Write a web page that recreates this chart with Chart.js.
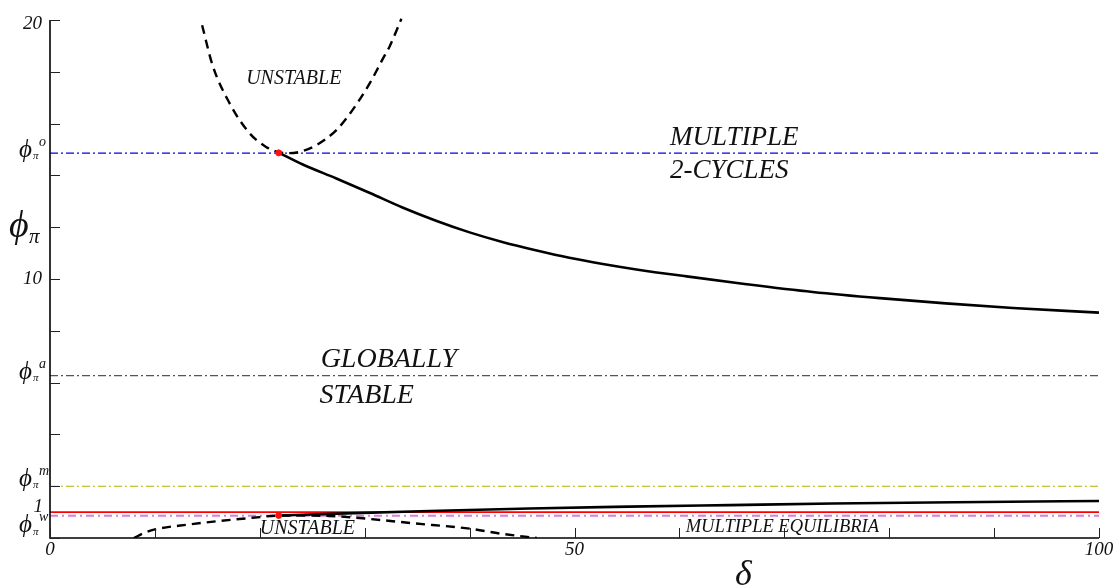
<!DOCTYPE html>
<html>
<head>
<meta charset="utf-8">
<script src="https://cdn.jsdelivr.net/npm/chart.js@4.4.1/dist/chart.umd.min.js"></script>
<style>
  html, body { margin: 0; padding: 0; background: #ffffff; }
  canvas { display: block; }
</style>
</head>
<body>
<canvas id="chart" width="1115" height="587"></canvas>
<script>
// ---- Bifurcation boundaries in the (delta, phi_pi) plane ----

// Upper unstable branch (dashed U shape)
const deltaUnstableUpper = [14.5, 15.5, 17.1, 19.0, 20.6, 21.8, 22.8, 24.0, 25.4, 27.3, 28.8, 30.5, 31.7, 32.4, 33.5];
const phiUnstableUpper   = [19.8, 18.25, 16.8, 15.64, 15.1, 14.9, 14.86, 14.93, 15.17, 15.75, 16.5, 17.57, 18.48, 19.0, 20.05];

// Flip (2-cycle) boundary, solid
const deltaFlip = [21.8, 24.1, 27.3, 30.5, 33.6, 36.8, 40.0, 43.2, 46.4, 49.5, 52.7, 55.9, 60.7, 66.4, 72.7, 79.1, 85.4, 91.8, 100];
const phiFlip   = [14.88, 14.42, 13.88, 13.32, 12.76, 12.25, 11.80, 11.42, 11.10, 10.82, 10.58, 10.37, 10.10, 9.80, 9.50, 9.26, 9.06, 8.88, 8.70];

// Multiple-equilibria boundary, solid
const deltaMultiEq = [21.8, 26.6, 36.2, 45.7, 55.2, 64.8, 74.6, 88.9, 100];
const phiMultiEq   = [0.87, 0.93, 1.04, 1.14, 1.21, 1.27, 1.33, 1.39, 1.43];

// Lower unstable branch (dashed hump)
const deltaUnstableLower = [8.0, 9.0, 10.0, 13.0, 16.2, 19.3, 21.6, 23.8, 26.6, 29.8, 34.6, 40.0, 43.1, 46.4];
const phiUnstableLower   = [0.0, 0.2, 0.33, 0.51, 0.66, 0.78, 0.86, 0.87, 0.85, 0.76, 0.57, 0.36, 0.16, 0.0];

// Meeting points of the branches
const deltaCusp = [21.8, 21.8];
const phiCusp   = [14.87, 0.87];

// Threshold levels of phi_pi
const phiO = 14.86;
const phiA = 6.27;
const phiM = 2.0;
const phiOne = 1.0;
const phiW = 0.86;

// Axis ticks and labels
const xTicks = [0, 10, 20, 30, 40, 50, 60, 70, 80, 90, 100];
const xTickLabels = ['0', '50', '100'];
const xTickLabelValues = [0, 50, 100];
const yTicks = [0, 2, 4, 6, 8, 10, 12, 14, 16, 18, 20];
const yTickLabels = ['10', '20'];
const yTickLabelValues = [10, 20];
const levelSuperscripts = ['o', 'a', 'm', 'w'];
const levelValues = [phiO, phiA, phiM, phiW];

const pts = (xs, ys) => xs.map((x, i) => ({ x, y: ys[i] }));
const hline = (v) => [{ x: 0, y: v }, { x: 100, y: v }];

const SERIF = '"Liberation Serif", "Times New Roman", serif';
const PHI = '\u03D5';
const DASH_DOT = [8, 3, 2, 3];

const overlay = {
  id: 'overlay',
  afterDatasetsDraw(chart) {
    const { ctx, chartArea: a } = chart;
    const xs = chart.scales.x, ys = chart.scales.y;
    ctx.save();

    // axis lines
    ctx.strokeStyle = '#000';
    ctx.lineWidth = 1.6;
    ctx.beginPath();
    ctx.moveTo(a.left, ys.getPixelForValue(20));
    ctx.lineTo(a.left, a.bottom);
    ctx.lineTo(xs.getPixelForValue(100), a.bottom);
    ctx.stroke();

    // inward tick marks
    ctx.lineWidth = 1;
    ctx.strokeStyle = '#222';
    ctx.beginPath();
    xTicks.forEach(v => {
      const px = Math.round(xs.getPixelForValue(v)) + 0.5;
      ctx.moveTo(px, a.bottom);
      ctx.lineTo(px, a.bottom - 10);
    });
    yTicks.forEach(v => {
      const py = Math.round(ys.getPixelForValue(v)) + 0.5;
      ctx.moveTo(a.left, py);
      ctx.lineTo(a.left + 10, py);
    });
    ctx.stroke();

    ctx.fillStyle = '#111';
    ctx.font = 'italic 19px ' + SERIF;

    // x tick labels
    ctx.textAlign = 'center';
    ctx.textBaseline = 'middle';
    xTickLabelValues.forEach((v, i) => {
      ctx.fillText(xTickLabels[i], xs.getPixelForValue(v), a.bottom + 12);
    });

    // y tick labels
    ctx.textAlign = 'right';
    yTickLabelValues.forEach((v, i) => {
      const py = Math.max(ys.getPixelForValue(v), a.top + 4);
      ctx.fillText(yTickLabels[i], a.left - 8, py);
    });

    // "1" for the red level
    ctx.textBaseline = 'alphabetic';
    ctx.fillText('1', a.left - 7, ys.getPixelForValue(phiOne) - 0.5);

    // phi_pi level labels with superscripts
    const offsets = { o: -3, a: -3, m: -7, w: 10 };
    levelValues.forEach((v, i) => {
      const s = levelSuperscripts[i];
      const cy = ys.getPixelForValue(v) + offsets[s];
      ctx.textAlign = 'left';
      ctx.textBaseline = 'middle';
      ctx.font = 'italic 25px ' + SERIF;
      ctx.fillText(PHI, 19, cy);
      ctx.font = 'italic 11px ' + SERIF;
      ctx.fillText('\u03C0', 33, cy + 6);
      ctx.font = 'italic 14px ' + SERIF;
      ctx.fillText(s, 39, cy - 8);
    });

    // axis titles
    ctx.textAlign = 'left';
    ctx.textBaseline = 'middle';
    ctx.font = 'italic 38px ' + SERIF;
    ctx.fillText(PHI, 9, 227);
    ctx.font = 'italic 21px ' + SERIF;
    ctx.fillText('\u03C0', 29, 237);
    ctx.font = 'italic 36px ' + SERIF;
    ctx.textBaseline = 'alphabetic';
    ctx.fillText('\u03B4', 735, 585);

    // region labels
    const label = (text, dx, dy, size) => {
      ctx.font = 'italic ' + size + 'px ' + SERIF;
      ctx.textAlign = 'left';
      ctx.textBaseline = 'alphabetic';
      ctx.fillText(text, xs.getPixelForValue(dx), ys.getPixelForValue(dy));
    };
    label('UNSTABLE', 18.7, 17.53, 20);
    label('MULTIPLE', 59.1, 15.17, 27);
    label('2-CYCLES', 59.1, 13.9, 27);
    label('GLOBALLY', 25.8, 6.6, 28);
    label('STABLE', 25.7, 5.21, 28);
    label('UNSTABLE', 20.0, 0.15, 20);
    label('MULTIPLE EQUILIBRIA', 60.6, 0.23, 18.5);

    ctx.restore();
  }
};

const curve = { showLine: true, pointRadius: 0, cubicInterpolationMode: 'monotone' };

new Chart(document.getElementById('chart'), {
  type: 'scatter',
  data: {
    datasets: [
      { data: pts(deltaCusp, phiCusp), showLine: false, pointRadius: 3, pointBackgroundColor: '#ff1010', pointBorderColor: '#ff1010', pointBorderWidth: 1, pointStyle: 'circle' },
      { ...curve, data: pts(deltaFlip, phiFlip), borderColor: '#000', borderWidth: 2.6 },
      { ...curve, data: pts(deltaMultiEq, phiMultiEq), borderColor: '#000', borderWidth: 2.6 },
      { ...curve, data: pts(deltaUnstableUpper, phiUnstableUpper), borderColor: '#000', borderWidth: 2.4, borderDash: [9, 6], clip: 4 },
      { ...curve, data: pts(deltaUnstableLower, phiUnstableLower), borderColor: '#000', borderWidth: 2.4, borderDash: [9, 6] },
      { data: hline(phiOne), showLine: true, borderColor: '#ff0000', borderWidth: 1.6, pointRadius: 0 },
      { data: hline(phiW), showLine: true, borderColor: '#e07ae0', borderWidth: 2, borderDash: [8, 4, 2, 4], pointRadius: 0 },
      { data: hline(phiM), showLine: true, borderColor: '#b8b000', borderWidth: 1.1, borderDash: DASH_DOT, pointRadius: 0 },
      { data: hline(phiA), showLine: true, borderColor: '#555555', borderWidth: 1.1, borderDash: DASH_DOT, pointRadius: 0 },
      { data: hline(phiO), showLine: true, borderColor: '#0000ee', borderWidth: 1.2, borderDash: DASH_DOT, pointRadius: 0 }
    ]
  },
  options: {
    responsive: false,
    animation: false,
    layout: { padding: { left: 50, top: 20, right: 16, bottom: 49 } },
    plugins: { legend: { display: false }, tooltip: { enabled: false } },
    scales: {
      x: { type: 'linear', min: 0, max: 100, display: false },
      y: { type: 'linear', min: 0, max: 20, display: false }
    }
  },
  plugins: [overlay]
});
</script>
</body>
</html>
